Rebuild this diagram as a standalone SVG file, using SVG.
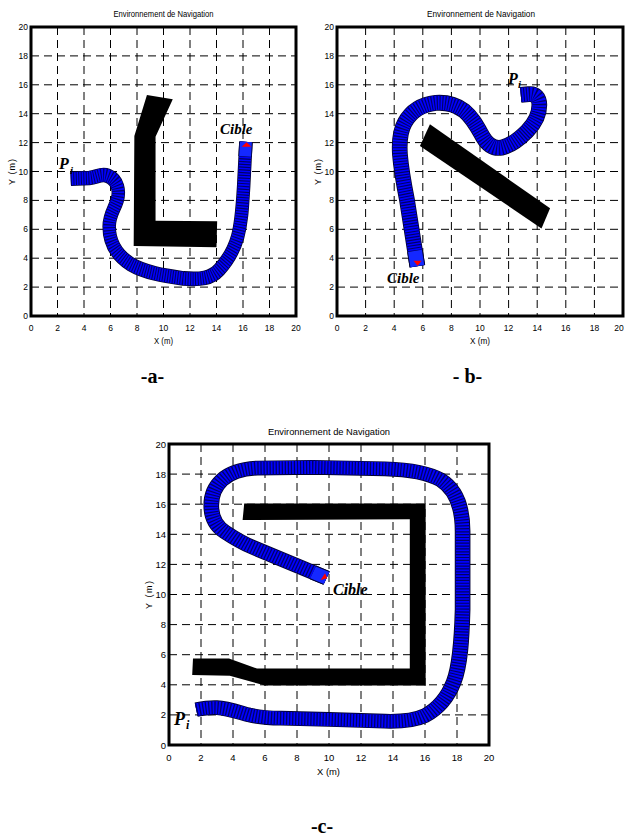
<svg xmlns="http://www.w3.org/2000/svg" xmlns:xlink="http://www.w3.org/1999/xlink" width="625" height="839" viewBox="0 0 625 839">
<style>
.frame{fill:none;stroke:#000;stroke-width:3}
.grid{fill:none;stroke:#000;stroke-width:1;stroke-dasharray:8 5}
.tick{font-family:"Liberation Sans",Arial,sans-serif;font-size:8.5px;fill:#000}
.tickc{font-family:"Liberation Sans",Arial,sans-serif;font-size:9.5px;fill:#000}
.tx{text-anchor:middle}
.ty{text-anchor:end}
.title{font-family:"Liberation Sans",Arial,sans-serif;font-size:9px;text-anchor:middle;fill:#000}
.obs{fill:#000}
.outl{fill:none;stroke:#000033;stroke-linejoin:round}
.body{fill:none;stroke:#0000ff;stroke-linejoin:round}
.hatch{fill:none;stroke:#000066;stroke-dasharray:0.08 0.11}
.endp{fill:none;stroke:#1428ff}
.tri{fill:#ff0000}
.lbl{font-family:"Liberation Serif","Times New Roman",serif;font-weight:bold;font-style:italic;fill:#000}
.cap{font-family:"Liberation Serif","Times New Roman",serif;font-weight:bold;font-size:20px;text-anchor:middle;fill:#000}
</style>
<defs>
<path id="ta" d="M3.0,9.5 L4.4,9.55 C5.0,9.6 5.3,9.9 5.8,9.7 C6.6,9.4 6.7,8.6 6.5,8.0 C6.3,7.4 5.9,7.0 5.9,6.2 C5.9,5.0 6.5,4.2 7.5,3.6 C8.6,3.0 10,2.8 11.5,2.6 C12.8,2.5 13.6,2.6 14.2,3.2 C14.8,3.8 15.3,4.5 15.6,5.5 C15.9,6.5 15.95,7.5 16.05,9 L16.22,12.05"/>
<path id="tae" d="M16.16,11.05 L16.22,12.05"/>
<path id="tb" d="M12.85,15.3 L13.4,15.35 C13.9,15.4 14.15,15.1 14.15,14.6 C14.15,14.0 13.9,13.4 13.3,12.8 C12.8,12.3 12.2,11.8 11.5,11.65 C10.9,11.55 10.5,11.9 10.2,12.4 C9.8,13.1 9.5,13.7 8.9,14.2 C8.3,14.65 7.6,14.8 6.9,14.75 C6.0,14.65 5.2,14.2 4.75,13.4 C4.4,12.8 4.35,12.0 4.4,11.2 C4.5,10.0 4.7,9 4.9,8.0 L5.62,3.45"/>
<path id="tbe" d="M5.45,4.5 L5.62,3.45"/>
<path id="tc" d="M1.7,2.35 C2.2,2.45 2.6,2.5 3.0,2.48 C3.6,2.45 4.3,2.2 5.0,2.0 C5.6,1.85 6.2,1.8 7,1.78 L10,1.7 L13.5,1.58 C14.5,1.55 15.3,1.6 16.0,1.95 C16.8,2.4 17.4,3.1 17.8,4.2 C18.2,5.3 18.3,7 18.35,9 L18.35,14.2 C18.35,15.8 17.9,17.0 17.0,17.6 C16.2,18.1 15,18.3 13.5,18.35 L9,18.45 L5.5,18.4 C4.5,18.35 3.8,18.1 3.3,17.6 C2.8,17.1 2.6,16.4 2.65,15.7 C2.7,15.0 3.0,14.5 3.5,14.15 C4.0,13.8 4.5,13.45 5.2,13.15 L9.85,11.1"/>
<path id="tce" d="M9.0,11.47 L9.85,11.1"/>
</defs>

<g id="plot-a">
<path class="grid" d="M57.5,27V316M84,27V316M110.5,27V316M137,27V316M163.5,27V316M190,27V316M216.5,27V316M243,27V316M269.5,27V316M31,287.1H296M31,258.2H296M31,229.3H296M31,200.4H296M31,171.5H296M31,142.6H296M31,113.7H296M31,84.8H296M31,55.9H296"/>
<g transform="matrix(13.25 0 0 -14.45 31 316)">
<polygon id="obstacle-a" class="obs" points="8.75,15.3 10.7,15.0 9.4,12.4 9.4,6.6 14.05,6.55 14.0,4.75 7.75,4.85 7.8,12.45"/>
<g id="trajectory-a">
<use xlink:href="#ta" class="outl" stroke-width="1.02"/>
<use xlink:href="#ta" class="body" stroke-width="0.9"/>
<use xlink:href="#ta" class="hatch" stroke-width="0.9"/>
<use xlink:href="#tae" class="outl" stroke-width="1.02"/>
<use xlink:href="#tae" class="endp" stroke-width="0.9"/>
<polygon class="tri" points="15.9,11.72 16.62,11.72 16.27,12.02"/>
</g>
</g>
<rect class="frame" x="31" y="27" width="265" height="289"/>
<text class="title" x="163.5" y="17" textLength="100" lengthAdjust="spacingAndGlyphs">Environnement de Navigation</text>
<g class="tick tx">
<text x="31" y="331">0</text><text x="57.5" y="331">2</text><text x="84" y="331">4</text><text x="110.5" y="331">6</text><text x="137" y="331">8</text><text x="163.5" y="331">10</text><text x="190" y="331">12</text><text x="216.5" y="331">14</text><text x="243" y="331">16</text><text x="269.5" y="331">18</text><text x="296" y="331">20</text>
</g>
<g class="tick ty">
<text x="28" y="319">0</text><text x="28" y="290.1">2</text><text x="28" y="261.2">4</text><text x="28" y="232.3">6</text><text x="28" y="203.4">8</text><text x="28" y="174.5">10</text><text x="28" y="145.6">12</text><text x="28" y="116.7">14</text><text x="28" y="87.8">16</text><text x="28" y="58.9">18</text><text x="28" y="30">20</text>
</g>
<text class="title" x="163.5" y="344" textLength="19" lengthAdjust="spacingAndGlyphs">X (m)</text>
<text class="title" transform="translate(15,172) rotate(-90)" x="0" y="0" textLength="26" lengthAdjust="spacing">Y (m)</text>
<text class="lbl" x="220" y="134" font-size="15">Cible</text>
<text class="lbl" x="59" y="169" font-size="16">P</text>
<text class="lbl" x="70" y="174" font-size="11">i</text>
<text class="cap" x="152.5" y="383">-a-</text>
</g>

<g id="plot-b">
<path class="grid" d="M365.6,27V316M394.2,27V316M422.8,27V316M451.4,27V316M480,27V316M508.6,27V316M537.2,27V316M565.8,27V316M594.4,27V316M337,287.1H623M337,258.2H623M337,229.3H623M337,200.4H623M337,171.5H623M337,142.6H623M337,113.7H623M337,84.8H623M337,55.9H623"/>
<g transform="matrix(14.3 0 0 -14.45 337 316)">
<polygon id="obstacle-b" class="obs" points="6.5,13.27 14.9,7.45 14.3,6.06 5.8,11.77"/>
<g id="trajectory-b">
<use xlink:href="#tb" class="outl" stroke-width="1.1"/>
<use xlink:href="#tb" class="body" stroke-width="0.98"/>
<use xlink:href="#tb" class="hatch" stroke-width="0.98"/>
<use xlink:href="#tbe" class="outl" stroke-width="1.1"/>
<use xlink:href="#tbe" class="endp" stroke-width="0.98"/>
<polygon class="tri" points="5.34,3.83 5.92,3.83 5.64,3.48"/>
</g>
</g>
<rect class="frame" x="337" y="27" width="286" height="289"/>
<text class="title" x="481" y="17" textLength="108" lengthAdjust="spacingAndGlyphs">Environnement de Navigation</text>
<g class="tick tx">
<text x="337" y="331">0</text><text x="365.6" y="331">2</text><text x="394.2" y="331">4</text><text x="422.8" y="331">6</text><text x="451.4" y="331">8</text><text x="480" y="331">10</text><text x="508.6" y="331">12</text><text x="537.2" y="331">14</text><text x="565.8" y="331">16</text><text x="594.4" y="331">18</text><text x="619" y="331">20</text>
</g>
<g class="tick ty">
<text x="334" y="319">0</text><text x="334" y="290.1">2</text><text x="334" y="261.2">4</text><text x="334" y="232.3">6</text><text x="334" y="203.4">8</text><text x="334" y="174.5">10</text><text x="334" y="145.6">12</text><text x="334" y="116.7">14</text><text x="334" y="87.8">16</text><text x="334" y="58.9">18</text><text x="334" y="30">20</text>
</g>
<text class="title" x="480" y="344" textLength="20" lengthAdjust="spacingAndGlyphs">X (m)</text>
<text class="title" transform="translate(321,172) rotate(-90)" x="0" y="0" textLength="26" lengthAdjust="spacing">Y (m)</text>
<text class="lbl" x="387" y="283" font-size="15">Cible</text>
<text class="lbl" x="508" y="84" font-size="16">P</text>
<text class="lbl" x="518" y="88" font-size="11">i</text>
<text class="cap" x="467.5" y="383">- b-</text>
</g>

<g id="plot-c">
<path class="grid" d="M201,444V745M233,444V745M265,444V745M297,444V745M329,444V745M361,444V745M393,444V745M425,444V745M457,444V745M169,714.9H489M169,684.8H489M169,654.7H489M169,624.6H489M169,594.5H489M169,564.4H489M169,534.3H489M169,504.2H489M169,474.1H489"/>
<g transform="matrix(16 0 0 -15.05 169 745)">
<polygon id="obstacle-c" class="obs" points="4.7,16.04 16.04,16.04 16.04,3.95 6.0,3.95 3.8,4.6 1.45,4.65 1.5,5.75 3.75,5.75 5.5,5.08 15.05,5.08 15.05,15.0 4.6,14.95"/>
<g id="trajectory-c">
<use xlink:href="#tc" class="outl" stroke-width="0.98"/>
<use xlink:href="#tc" class="body" stroke-width="0.86"/>
<use xlink:href="#tc" class="hatch" stroke-width="0.86"/>
<use xlink:href="#tce" class="outl" stroke-width="0.98"/>
<use xlink:href="#tce" class="endp" stroke-width="0.86"/>
<polygon class="tri" points="9.48,10.96 9.75,11.41 9.89,11.08"/>
</g>
</g>
<rect class="frame" x="169" y="444" width="320" height="301"/>
<text class="title" x="329" y="435" font-size="10" textLength="122" lengthAdjust="spacingAndGlyphs">Environnement de Navigation</text>
<g class="tickc tx">
<text x="169" y="761">0</text><text x="201" y="761">2</text><text x="233" y="761">4</text><text x="265" y="761">6</text><text x="297" y="761">8</text><text x="329" y="761">10</text><text x="361" y="761">12</text><text x="393" y="761">14</text><text x="425" y="761">16</text><text x="457" y="761">18</text><text x="489" y="761">20</text>
</g>
<g class="tickc ty">
<text x="166" y="748.5">0</text><text x="166" y="718.4">2</text><text x="166" y="688.3">4</text><text x="166" y="658.2">6</text><text x="166" y="628.1">8</text><text x="166" y="598">10</text><text x="166" y="567.9">12</text><text x="166" y="537.8">14</text><text x="166" y="507.7">16</text><text x="166" y="477.6">18</text><text x="166" y="447.5">20</text>
</g>
<text class="title" x="328.5" y="775" font-size="10" textLength="23" lengthAdjust="spacingAndGlyphs">X (m)</text>
<text class="title" transform="translate(152,595) rotate(-90)" x="0" y="0" font-size="10" textLength="28" lengthAdjust="spacing">Y (m)</text>
<text class="lbl" x="333" y="595" font-size="16">Cible</text>
<text class="lbl" x="174" y="725" font-size="18">P</text>
<text class="lbl" x="186" y="729" font-size="12">i</text>
<text class="cap" x="322" y="833">-c-</text>
</g>
</svg>
